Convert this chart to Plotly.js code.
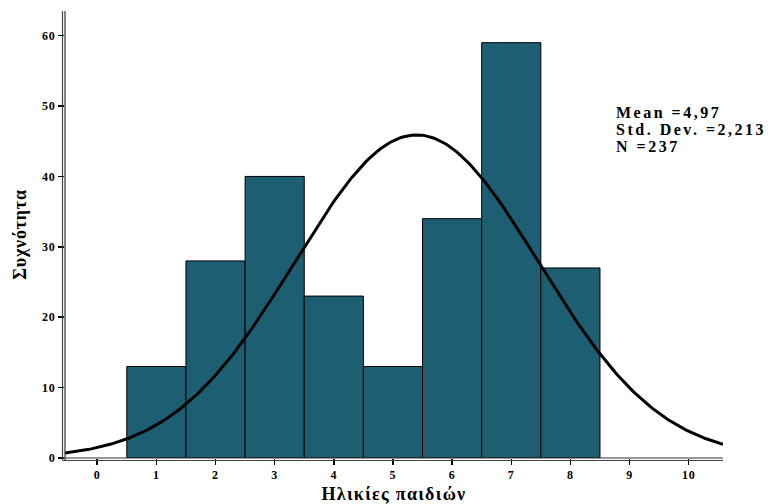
<!DOCTYPE html>
<html>
<head>
<meta charset="utf-8">
<script src="https://cdn.plot.ly/plotly-3.0.1.min.js"></script>
<style>html,body{margin:0;padding:0;background:#fff;}#chart{width:768px;height:504px;}</style>
</head>
<body>
<div id="chart"></div>
<script>
// Histogram data (age of children)
const ages = [1, 2, 3, 4, 5, 6, 7, 8];
const counts = [13, 28, 40, 23, 13, 34, 59, 27];
const xTicks = [0, 1, 2, 3, 4, 5, 6, 7, 8, 9, 10];
const yTicks = [0, 10, 20, 30, 40, 50, 60];
const statLines = ["Mean =4,97", "Std. Dev. =2,213", "N =237"];

// Normal curve parameters as drawn in the picture
const curveCenter = 5.4;
const curveSD = 2.06;
const curveN = 237;
const binWidth = 1;

const xRange = [-0.545, 10.58];
const yRange = [0, 63.5];

const curveX = [];
const curveY = [];
const steps = 300;
for (let i = 0; i <= steps; i++) {
  const x = xRange[0] + (xRange[1] - xRange[0]) * i / steps;
  const z = (x - curveCenter) / curveSD;
  curveX.push(x);
  curveY.push(curveN * binWidth / (curveSD * Math.sqrt(2 * Math.PI)) * Math.exp(-0.5 * z * z));
}

const serif = "'Liberation Serif', 'Times New Roman', serif";
const spaced = (t, s) => '<span style="letter-spacing:' + s + 'px">' + t + '</span>';

const traces = [
  {
    type: 'bar', x: ages, y: counts, width: 1,
    marker: {color: '#1e5e73', line: {color: '#000', width: 1}},
    hoverinfo: 'x+y', showlegend: false
  },
  {
    type: 'scatter', mode: 'lines', x: curveX, y: curveY,
    line: {color: '#000', width: 3}, hoverinfo: 'skip', showlegend: false
  }
];

const plotW = 768 - 65 - 45;
const plotH = 504 - 11 - 46;
const px = 1 / plotW, py = 1 / plotH;

const statY = [112.5, 129.5, 146.5];
const annotations = statLines.map((t, i) => ({
  xref: 'paper', yref: 'paper',
  x: (614 - 65) * px, y: 1 - (statY[i] - 11) * py,
  xanchor: 'left', yanchor: 'middle', align: 'left', showarrow: false,
  text: spaced(t, 2.5),
  font: {family: serif, size: 16, color: '#000', weight: 'bold'}
}));

const layout = {
  width: 768, height: 504,
  margin: {l: 65, r: 45, t: 11, b: 46},
  paper_bgcolor: '#fff', plot_bgcolor: '#fff',
  showlegend: false,
  bargap: 0,
  xaxis: {
    range: xRange, tickvals: xTicks, ticktext: xTicks.map(v => spaced(String(v), 0.8)),
    showgrid: false, zeroline: false, showline: false,
    ticks: 'outside', ticklen: 6, tickwidth: 1.5, tickcolor: '#000',
    tickfont: {family: serif, size: 12, color: '#000', weight: 'bold'},
    title: {text: spaced('Ηλικίες παιδιών', 1.3), font: {family: serif, size: 18, color: '#000', weight: 'bold'}, standoff: 7}
  },
  yaxis: {
    range: yRange, tickvals: yTicks, ticktext: yTicks.map(v => spaced(String(v), 0.8)),
    showgrid: false, zeroline: false, showline: false,
    ticks: 'outside', ticklen: 6, tickwidth: 1.5, tickcolor: '#000',
    tickfont: {family: serif, size: 12, color: '#000', weight: 'bold'},
    title: {text: spaced('Συχνότητα', 0.8), font: {family: serif, size: 18, color: '#000', weight: 'bold'}, standoff: 10}
  },
  shapes: [
    {type: 'line', xref: 'paper', yref: 'paper', x0: 0, x1: 0, y0: -2 * py, y1: 1, line: {color: '#333', width: 1.2}},
    {type: 'line', xref: 'paper', yref: 'paper', x0: -2.5 * px, x1: -2.5 * px, y0: -2 * py, y1: 1, line: {color: '#444', width: 1.2}},
    {type: 'line', xref: 'paper', yref: 'paper', x0: -2.5 * px, x1: 1, y0: 0, y1: 0, line: {color: '#333', width: 1.2}},
    {type: 'line', xref: 'paper', yref: 'paper', x0: -2.5 * px, x1: 1, y0: -2.5 * py, y1: -2.5 * py, line: {color: '#444', width: 1.2}}
  ],
  annotations: annotations
};

Plotly.newPlot('chart', traces, layout, {displayModeBar: false, staticPlot: true});
</script>
</body>
</html>
